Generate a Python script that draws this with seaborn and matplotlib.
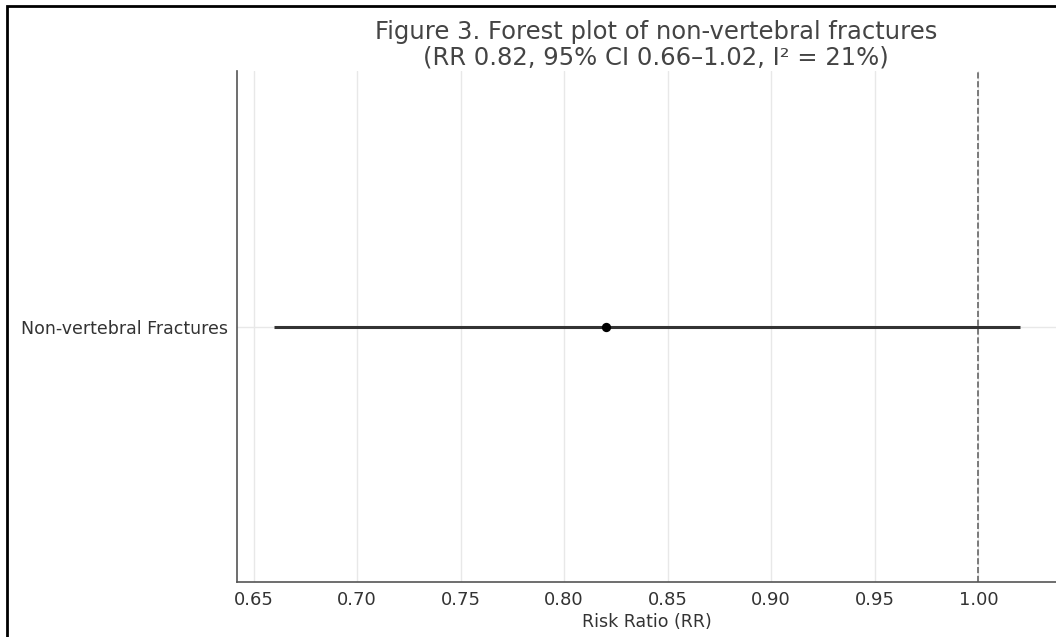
import numpy as np
import pandas as pd
import matplotlib
matplotlib.use("Agg")
import matplotlib.pyplot as plt
from matplotlib.patches import Rectangle
import seaborn as sns

# Data
outcomes = ["Non-vertebral Fractures"]
rr = [0.82]
ci_low = [0.66]
ci_high = [1.02]
null_value = 1.0
xticks = [0.65, 0.70, 0.75, 0.80, 0.85, 0.90, 0.95, 1.00]

df = pd.DataFrame({"outcome": outcomes, "rr": rr, "lo": ci_low, "hi": ci_high})

sns.set_style("whitegrid")
plt.rcParams['font.family'] = ['DejaVu Sans']

fig = plt.figure(figsize=(10.56, 6.37), dpi=100)
ax = fig.add_axes([237/1056, 55/637, (1057-237)/1056, (582-71)/637])

# CI line
ax.errorbar(df["rr"], df["outcome"],
            xerr=[df["rr"] - df["lo"], df["hi"] - df["rr"]],
            fmt="none", ecolor="#333333", elinewidth=2.2, capsize=0, zorder=3)
sns.scatterplot(data=df, x="rr", y="outcome", color="black", s=45,
                edgecolor="black", linewidth=0, ax=ax, zorder=4)
ax.axvline(null_value, color="#666666", linestyle="--", linewidth=1.2, zorder=2)

ax.set_ylim(-0.5, 0.5)
ax.set_xlim(0.642, 1.038)
ax.set_xticks(xticks)
ax.set_xticklabels([f"{t:.2f}" for t in xticks])
ax.grid(True, color="#e8e8e8", linewidth=1.0)
ax.set_axisbelow(True)

for s in ["top", "right"]:
    ax.spines[s].set_visible(False)
for s in ["left", "bottom"]:
    ax.spines[s].set_color("#555555")
    ax.spines[s].set_linewidth(1.2)

ax.tick_params(axis="both", colors="#333333", length=3)
ax.tick_params(axis="x", labelsize=13)
ax.tick_params(axis="y", labelsize=12.5)
ax.set_xlabel("Risk Ratio (RR)", fontsize=12.5, color="#333333", labelpad=3)
ax.set_ylabel("")
ax.set_title("Figure 3. Forest plot of non-vertebral fractures\n(RR 0.82, 95% CI 0.66–1.02, I² = 21%)",
             fontsize=17.5, color="#444444", pad=5, linespacing=1.05, x=0.511)

# document border
fig.patches.append(Rectangle((7/1056, -0.1), 1.2, (637-6)/637 + 0.1,
                             transform=fig.transFigure, fill=False,
                             edgecolor="black", linewidth=2, clip_on=False))

fig.savefig("out.png", dpi=100)
